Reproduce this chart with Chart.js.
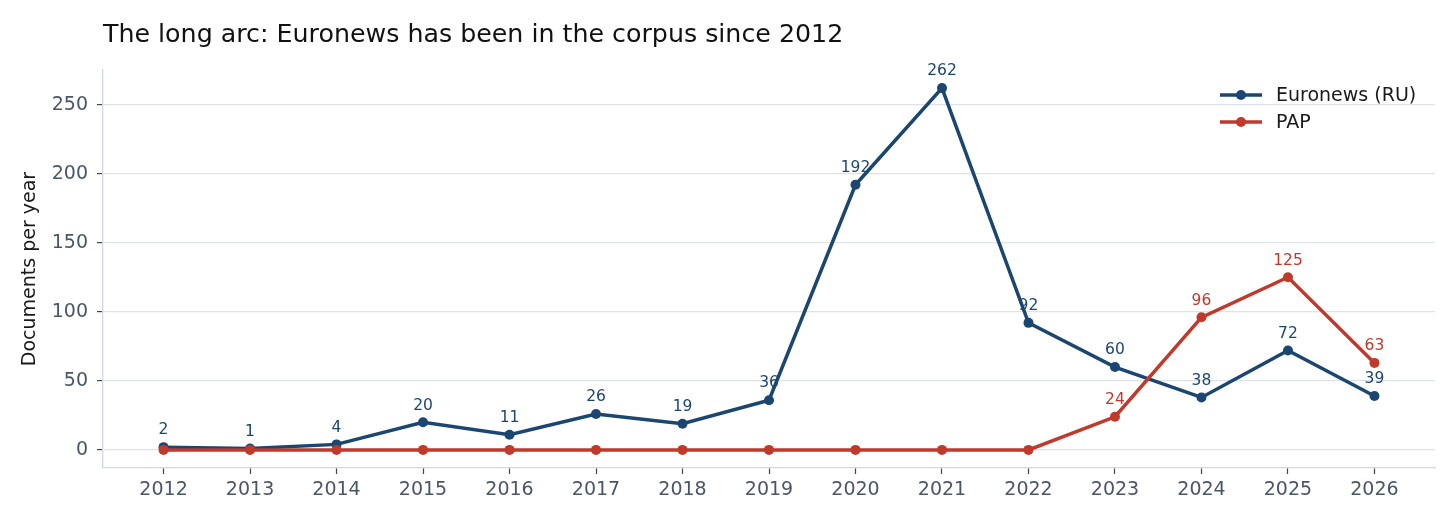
<!DOCTYPE html>
<html>
<head>
<meta charset="utf-8">
<script src="https://cdn.jsdelivr.net/npm/chart.js@4"></script>
<style>
  body { margin: 0; background: #fff; }
  #wrap { width: 1456px; height: 524px; }
</style>
</head>
<body>
<div id="wrap"><canvas id="myChart"></canvas></div>
<script>
let years = [2012, 2013, 2014, 2015, 2016, 2017, 2018, 2019, 2020, 2021, 2022, 2023, 2024, 2025, 2026]
let euronews = [2, 1, 4, 20, 11, 26, 19, 36, 192, 262, 92, 60, 38, 72, 39]
let pap = [0, 0, 0, 0, 0, 0, 0, 0, 0, 0, 0, 24, 96, 125, 63]
let seriesNames = ['Euronews (RU)', 'PAP']
let colorHex = ['#1b4670', '#c0392b']
let yTicks = [0, 50, 100, 150, 200, 250]
let titleText = 'The long arc: Euronews has been in the corpus since 2012'

const FONT = "'DejaVu Sans', sans-serif"

function toPoints(vals) {
    return years.map((y, i) => ({ x: y, y: vals[i] }))
}

// title, point labels and the in-plot legend
const extras = {
    id: 'extras',
    afterDatasetsDraw(chart) {
        const ctx = chart.ctx
        const area = chart.chartArea
        ctx.save()

        // value labels above points (PAP zeros are skipped)
        ctx.font = '15.5px ' + FONT
        ctx.textAlign = 'center'
        ctx.textBaseline = 'bottom'
        chart.data.datasets.forEach((ds, di) => {
            const meta = chart.getDatasetMeta(di)
            meta.data.forEach((pt, i) => {
                const v = ds.data[i].y
                if (di === 1 && v === 0) return
                ctx.fillStyle = colorHex[di]
                ctx.fillText(String(v), pt.x, pt.y - 9)
            })
        })

        // legend
        ctx.font = '19px ' + FONT
        ctx.textAlign = 'left'
        ctx.textBaseline = 'middle'
        seriesNames.forEach((name, i) => {
            const y = 95 + i * 27
            ctx.strokeStyle = colorHex[i]
            ctx.lineWidth = 3.5
            ctx.beginPath()
            ctx.moveTo(1220, y)
            ctx.lineTo(1262, y)
            ctx.stroke()
            ctx.fillStyle = colorHex[i]
            ctx.beginPath()
            ctx.arc(1241, y, 5, 0, Math.PI * 2)
            ctx.fill()
            ctx.fillStyle = '#1a1a1a'
            ctx.fillText(name, 1276, y + 1)
        })

        // title
        ctx.font = '25.3px ' + FONT
        ctx.textBaseline = 'alphabetic'
        ctx.fillStyle = '#111111'
        ctx.fillText(titleText, area.left, 42)
        ctx.restore()
    }
}

let chartakyu = document.getElementById('myChart').getContext('2d')

let myChart = new Chart(chartakyu, {
    type: 'line',
    data: {
        datasets: [
            {
                label: seriesNames[0],
                data: toPoints(euronews),
                borderColor: colorHex[0],
                backgroundColor: colorHex[0],
                borderWidth: 3.5,
                pointRadius: 5,
                pointHoverRadius: 5,
                pointBorderWidth: 0,
                tension: 0,
                order: 1,
            },
            {
                label: seriesNames[1],
                data: toPoints(pap),
                borderColor: colorHex[1],
                backgroundColor: colorHex[1],
                borderWidth: 3.5,
                pointRadius: 5,
                pointHoverRadius: 5,
                pointBorderWidth: 0,
                tension: 0,
                order: 0,
            },
        ],
    },
    options: {
        responsive: true,
        maintainAspectRatio: false,
        animation: false,
        layout: {
            padding: { left: 0, right: 21, top: 70, bottom: 0 },
        },
        plugins: {
            legend: { display: false },
            tooltip: { enabled: false },
        },
        scales: {
            x: {
                type: 'linear',
                min: 2011.3,
                max: 2026.7,
                afterBuildTicks: (scale) => {
                    scale.ticks = years.map(v => ({ value: v }))
                },
                afterFit: (scale) => { scale.height = 56 },
                ticks: {
                    font: { family: FONT, size: 19 },
                    color: '#4a5568',
                    padding: 5,
                    maxRotation: 0,
                    callback: (v) => String(v),
                },
                grid: {
                    drawOnChartArea: false,
                    drawTicks: true,
                    tickLength: 6,
                    tickColor: '#3d4654',
                    tickWidth: 1.2,
                },
                border: { color: '#cfd8e3', width: 1.3 },
            },
            y: {
                min: -13.1,
                max: 275.1,
                afterBuildTicks: (scale) => {
                    scale.ticks = yTicks.map(v => ({ value: v }))
                },
                afterFit: (scale) => { scale.width = 103 },
                ticks: {
                    font: { family: FONT, size: 19 },
                    color: '#4a5568',
                    padding: 9,
                },
                grid: {
                    color: '#dde3ea',
                    lineWidth: 1.2,
                    drawTicks: true,
                    tickLength: 6,
                    tickColor: '#3d4654',
                    tickWidth: 1.2,
                },
                border: { color: '#cfd8e3', width: 1.3 },
                title: {
                    display: true,
                    text: 'Documents per year',
                    font: { family: FONT, size: 19 },
                    color: '#1a1a1a',
                    padding: { top: 19, bottom: 0 },
                },
            },
        },
    },
    plugins: [extras],
})
</script>
</body>
</html>
